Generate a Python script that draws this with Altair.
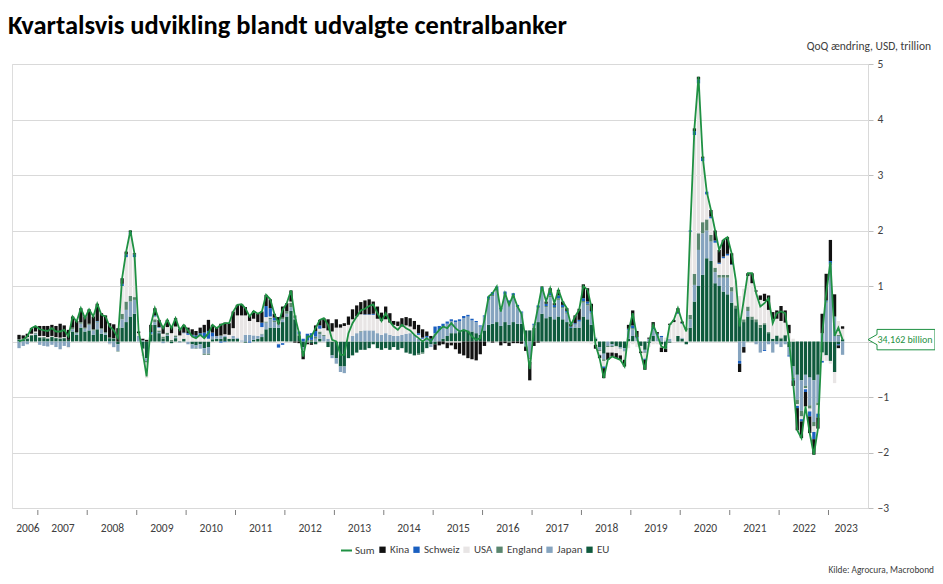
import altair as alt
import pandas as pd

# ---------------- data (USD trillion, QoQ change, monthly Aug 2006 - Apr 2023) ----------------
EU = [0.03, 0.03, 0.05, 0.10, 0.12,
      0.07, 0.06, 0.05, 0.08, 0.06, 0.05, 0.06, 0.03, 0.18, 0.12, 0.25, 0.18,
      0.20, 0.12, 0.22, 0.14, 0.12, 0.06, 0.05, -0.05, 0.25, 0.35, 0.45, 0.50,
      0.00, -0.12, -0.30, 0.12, 0.30, 0.15, 0.05, 0.10, -0.03, 0.06, 0.00, 0.05,
      0.00, -0.05, -0.07, -0.05, -0.12, -0.10, 0.04, 0.05, 0.05, 0.08, 0.05, 0.05,
      0.05, 0.00, -0.02, 0.00, 0.03, 0.05, 0.08, 0.22, 0.25, 0.25, 0.25, 0.35,
      0.45, 0.55, 0.40, 0.10, -0.10, 0.00, -0.03, -0.05, 0.05, 0.00, -0.10, -0.25,
      -0.30, -0.45, -0.45, -0.30, -0.25, -0.20, -0.15, -0.15, -0.12, -0.05, -0.12, -0.15,
      -0.12, -0.15, -0.10, -0.15, -0.12, -0.20, -0.22, -0.25, -0.22, -0.20, -0.12, -0.05,
      -0.05, 0.00, 0.05, 0.10, 0.15, 0.15, 0.17, 0.20, 0.20, 0.18, 0.15, 0.12,
      0.20, 0.30, 0.32, 0.35, 0.28, 0.35, 0.30, 0.35, 0.32, 0.32, 0.20, 0.20,
      0.25, 0.35, 0.50, 0.42, 0.45, 0.40, 0.45, 0.40, 0.35, 0.25, 0.25, 0.25,
      0.45, 0.40, 0.30, 0.05, -0.10, -0.22, 0.00, -0.05, -0.08, -0.10, -0.12, 0.05,
      0.10, 0.00, -0.08, -0.15, -0.03, 0.10, 0.00, -0.05, -0.12, -0.02, 0.00, 0.10,
      0.05, -0.05, 0.25, 0.72, 1.00, 1.20, 1.50, 1.45, 1.05, 1.00, 0.90, 0.85,
      0.70, 0.60, 0.40, 0.35, 0.45, 0.40, 0.35, 0.25, 0.30, 0.15, 0.05, 0.10,
      0.05, 0.10, -0.10, -0.45, -0.60, -0.70, -0.60, -0.65, -0.70, -0.60, -0.20, -0.25,
      -0.35, -0.55, -0.05, 0.03]
JAPAN = [-0.12, -0.08, -0.05, 0.00, 0.02,
         -0.06, -0.08, -0.09, -0.06, -0.10, -0.14, -0.08, -0.10, 0.04, 0.03, 0.07, 0.05,
         0.10, 0.08, 0.12, 0.08, 0.03, -0.04, -0.10, -0.12, 0.15, 0.22, 0.27, 0.25,
         0.10, 0.02, -0.05, 0.00, 0.05, 0.02, -0.03, 0.02, 0.00, 0.02, -0.02, 0.00,
         -0.05, -0.08, -0.05, -0.08, -0.10, -0.12, 0.05, 0.05, 0.05, 0.03, 0.00, 0.05,
         0.02, 0.02, 0.12, 0.12, 0.08, 0.05, 0.05, 0.12, 0.15, 0.10, 0.05, 0.05,
         0.05, 0.07, 0.02, 0.00, -0.05, -0.02, 0.00, 0.05, 0.08, 0.10, 0.05, -0.05,
         -0.10, -0.10, -0.12, 0.00, 0.10, 0.15, 0.18, 0.20, 0.20, 0.20, 0.15, 0.12,
         0.15, 0.12, 0.10, 0.10, 0.12, 0.14, 0.15, 0.12, 0.05, 0.00, 0.05, -0.05,
         0.15, 0.20, 0.22, 0.22, 0.22, 0.20, 0.20, 0.22, 0.25, 0.20, 0.20, 0.15,
         0.25, 0.45, 0.50, 0.55, 0.30, 0.50, 0.40, 0.45, 0.30, 0.20, -0.08, -0.30,
         0.05, 0.25, 0.40, 0.20, 0.35, 0.20, 0.30, 0.20, 0.15, 0.00, 0.05, 0.10,
         0.25, 0.25, 0.20, 0.02, -0.05, -0.10, -0.08, -0.03, 0.00, -0.02, -0.05, 0.15,
         0.12, 0.05, 0.00, -0.05, 0.05, 0.12, 0.12, 0.08, 0.02, 0.05, 0.00, 0.00,
         0.02, 0.00, 0.15, 0.30, 0.65, 0.75, 0.50, 0.35, 0.20, 0.15, 0.25, 0.30,
         0.20, 0.00, -0.35, -0.10, 0.10, 0.00, -0.05, -0.20, -0.15, -0.05, -0.20, -0.05,
         -0.10, -0.05, -0.15, -0.20, -0.45, -0.55, -0.20, -0.50, -0.75, -0.50, 0.15, 0.70,
         1.38, 0.45, 0.10, -0.24]
ENGLAND = [0.01, 0.01, 0.01, 0.02, 0.02,
           0.01, 0.02, 0.01, 0.01, 0.01, 0.01, 0.01, 0.00, 0.03, 0.02, 0.03, 0.02,
           0.02, 0.02, 0.02, 0.02, 0.02, 0.01, 0.01, -0.01, 0.10, 0.15, 0.10, 0.05,
           0.00, -0.02, -0.03, 0.02, 0.05, 0.03, 0.04, 0.04, 0.03, 0.03, 0.01, 0.00,
           0.00, 0.00, -0.01, 0.00, -0.02, -0.02, 0.00, 0.00, 0.01, 0.00, 0.00, 0.00,
           0.00, 0.00, 0.00, 0.00, 0.00, 0.00, 0.01, 0.02, 0.03, 0.03, 0.02, 0.03,
           0.05, 0.08, 0.05, 0.03, 0.00, 0.02, 0.03, 0.04, 0.05, 0.02, 0.00, 0.00,
           0.00, 0.00, 0.00, 0.00, 0.00, 0.00, 0.01, 0.00, 0.00, 0.00, 0.00, 0.00,
           0.00, 0.00, 0.00, 0.00, 0.00, 0.00, 0.00, 0.00, -0.02, -0.02, 0.00, 0.00,
           0.00, 0.00, 0.00, 0.00, 0.00, 0.00, 0.00, 0.00, 0.00, 0.00, 0.00, 0.00,
           0.00, 0.02, 0.02, 0.02, 0.00, 0.00, -0.02, 0.03, 0.02, 0.00, -0.02, -0.02,
           0.00, 0.02, 0.03, 0.02, 0.03, 0.02, 0.03, 0.02, 0.02, 0.00, 0.01, 0.01,
           0.03, 0.03, 0.02, 0.00, -0.02, -0.03, -0.02, -0.02, -0.01, -0.01, -0.01, 0.01,
           0.02, 0.01, 0.00, -0.01, 0.00, 0.00, 0.00, -0.01, -0.01, 0.00, 0.00, 0.00,
           0.00, 0.00, 0.08, 0.20, 0.30, 0.20, 0.20, 0.12, 0.08, 0.05, 0.05, 0.05,
           0.08, 0.05, 0.02, 0.05, 0.08, 0.05, 0.05, 0.05, 0.03, 0.02, 0.00, 0.01,
           0.02, 0.02, 0.00, -0.03, -0.08, -0.10, -0.04, -0.06, -0.08, -0.05, 0.00, 0.02,
           0.02, 0.00, 0.02, 0.02]
USA = [0.00, 0.01, 0.02, 0.02, 0.02,
       0.02, 0.02, 0.02, 0.01, 0.01, 0.01, 0.01, -0.02, 0.00, -0.01, 0.00, -0.03,
       0.00, 0.00, 0.00, -0.03, -0.02, -0.02, -0.01, 0.00, 0.50, 0.80, 1.12, 0.72,
       0.05, -0.12, -0.28, 0.00, 0.05, 0.05, 0.05, 0.10, 0.12, 0.16, 0.10, 0.10,
       0.12, 0.10, 0.08, 0.10, 0.08, 0.05, 0.00, -0.02, 0.00, 0.02, 0.07, 0.14,
       0.40, 0.45, 0.35, 0.25, 0.30, 0.25, 0.12, 0.08, 0.02, 0.00, -0.05, -0.03,
       0.00, 0.02, 0.00, 0.00, -0.02, 0.00, 0.00, 0.00, 0.05, 0.12, 0.15, 0.18,
       0.25, 0.25, 0.28, 0.30, 0.30, 0.30, 0.30, 0.28, 0.28, 0.28, 0.26, 0.25,
       0.25, 0.22, 0.20, 0.18, 0.15, 0.15, 0.12, 0.10, 0.07, 0.05, 0.02, 0.00,
       0.00, 0.00, 0.00, -0.02, -0.02, -0.02, -0.02, 0.00, 0.00, 0.00, 0.00, 0.00,
       0.00, 0.00, 0.00, 0.00, 0.00, 0.00, 0.00, 0.00, 0.00, 0.00, 0.00, -0.05,
       0.00, 0.00, 0.00, 0.00, 0.00, 0.00, 0.00, 0.00, 0.00, -0.02, -0.02, -0.02,
       -0.03, -0.03, -0.05, -0.06, -0.07, -0.10, -0.10, -0.10, -0.12, -0.12, -0.15, -0.12,
       -0.05, -0.10, -0.10, -0.10, -0.07, -0.05, -0.05, -0.05, 0.05, 0.25, 0.35, 0.40,
       0.25, 0.22, 1.50, 2.50, 2.70, 1.10, 0.45, 0.30, 0.45, 0.20, 0.30, 0.35,
       0.40, 0.45, 0.40, 0.55, 0.55, 0.60, 0.50, 0.45, 0.40, 0.40, 0.35, 0.30,
       0.30, 0.22, 0.15, 0.05, -0.03, -0.05, -0.02, -0.05, -0.10, -0.15, -0.15, -0.10,
       -0.05, -0.20, 0.25, 0.18]
SCHWEIZ = [0.00, 0.00, 0.00, 0.00, 0.00,
           0.00, 0.00, 0.00, 0.00, 0.00, 0.00, 0.00, 0.00, 0.00, 0.00, 0.00, 0.00,
           0.00, 0.00, 0.01, 0.00, 0.00, 0.00, 0.00, 0.00, 0.04, 0.05, 0.03, 0.05,
           0.00, 0.00, 0.00, 0.03, 0.02, 0.01, 0.00, 0.00, 0.00, 0.00, 0.00, 0.01,
           0.03, 0.02, 0.03, 0.05, 0.08, 0.14, 0.07, 0.00, -0.02, -0.01, 0.00, 0.00,
           0.00, 0.00, 0.00, -0.02, 0.00, 0.00, 0.08, 0.20, 0.15, 0.05, -0.06, -0.03,
           0.00, 0.00, 0.00, 0.05, 0.05, 0.12, 0.12, 0.10, 0.06, 0.00, 0.00, 0.00,
           0.00, 0.00, 0.00, 0.00, 0.00, 0.00, 0.00, 0.01, 0.01, 0.02, 0.00, 0.00,
           0.00, 0.00, 0.00, 0.00, 0.00, 0.00, 0.00, 0.00, 0.03, 0.02, 0.03, 0.05,
           0.12, 0.08, 0.05, 0.04, 0.03, 0.03, 0.03, 0.04, 0.03, 0.03, 0.02, 0.02,
           0.02, 0.04, 0.05, 0.07, 0.03, 0.05, 0.04, 0.04, 0.02, 0.02, 0.00, 0.00,
           0.02, 0.03, 0.05, 0.04, 0.05, 0.04, 0.05, 0.04, 0.03, 0.02, 0.02, 0.03,
           0.05, 0.04, 0.03, 0.00, -0.01, -0.03, 0.00, 0.00, 0.00, 0.00, 0.00, 0.02,
           0.05, 0.02, 0.00, -0.02, 0.00, 0.03, 0.02, 0.02, 0.00, 0.00, 0.00, 0.02,
           0.01, 0.00, 0.02, 0.07, 0.07, 0.06, 0.05, 0.03, 0.04, 0.02, 0.03, 0.03,
           0.01, 0.00, -0.05, 0.00, 0.00, 0.00, 0.00, 0.00, -0.02, 0.00, 0.00, 0.00,
           0.00, 0.00, -0.02, -0.02, -0.04, -0.04, -0.05, -0.09, -0.13, -0.07, -0.03, 0.02,
           0.05, 0.00, -0.02, 0.00]
KINA = [0.08, 0.06, 0.06, 0.10, 0.10,
        0.18, 0.18, 0.20, 0.20, 0.20, 0.25, 0.21, 0.18, 0.20, 0.20, 0.25, 0.20,
        0.26, 0.23, 0.31, 0.27, 0.30, 0.26, 0.25, 0.24, 0.10, 0.05, 0.03, 0.02,
        0.03, 0.03, 0.03, 0.13, 0.13, 0.13, 0.13, 0.13, 0.12, 0.15, 0.12, 0.14,
        0.10, 0.10, 0.08, 0.10, 0.14, 0.20, 0.14, 0.16, 0.21, 0.21, 0.21, 0.30,
        0.19, 0.20, 0.15, 0.10, 0.14, 0.15, 0.20, 0.20, 0.16, 0.07, 0.12, 0.20,
        0.14, 0.20, -0.02, -0.03, -0.15, -0.03, -0.03, 0.10, 0.10, 0.18, 0.20, 0.15,
        0.15, 0.06, 0.05, 0.15, 0.18, 0.20, 0.22, 0.25, 0.27, 0.22, 0.22, 0.15,
        0.23, 0.17, 0.07, 0.08, 0.15, 0.15, 0.15, 0.15, 0.15, 0.15, 0.08, 0.05,
        -0.10, -0.07, -0.05, -0.10, -0.05, -0.12, -0.20, -0.25, -0.30, -0.32, -0.34, -0.23,
        -0.08, 0.00, -0.02, 0.00, -0.07, -0.03, -0.06, -0.03, -0.03, -0.04, -0.07, -0.33,
        -0.08, -0.02, 0.01, 0.04, 0.08, 0.03, 0.10, 0.06, 0.05, 0.05, 0.14, 0.20,
        0.25, 0.24, 0.13, -0.07, -0.05, -0.18, -0.13, -0.07, -0.09, -0.08, -0.12, 0.07,
        0.27, 0.11, -0.03, -0.18, 0.02, 0.10, 0.03, -0.08, -0.06, 0.02, 0.04, 0.08,
        0.03, 0.01, 0.00, 0.05, 0.05, 0.02, 0.00, 0.12, 0.18, 0.23, 0.30, 0.30,
        0.20, 0.00, -0.15, -0.10, 0.05, 0.18, 0.02, 0.08, 0.13, 0.26, 0.13, 0.15,
        0.27, 0.22, 0.15, -0.10, -0.40, -0.30, -0.26, -0.30, -0.28, -0.20, 0.35, 0.48,
        0.38, 0.40, -0.05, 0.044]

FIRST_MONTH = "2006-08-01"
YEAR_TICKS = list(range(2007, 2024))
LEGEND_ORDER = ["Kina", "Schweiz", "USA", "England", "Japan", "EU"]
LEGEND_COLORS = ["#111111", "#1a5fc0", "#e8e5e5", "#5a866e", "#86a4bf", "#0f5a3d"]
STACK_ORDER = ["EU", "Japan", "England", "USA", "Schweiz", "Kina"]
SUM_COLOR = "#1f9143"
LAST_LABEL = "34,162 billion"
TITLE = "Kvartalsvis udvikling blandt udvalgte centralbanker"
UNIT = "QoQ ændring, USD, trillion"
SOURCE = "Kilde: Agrocura, Macrobond"

# ---------------- tables ----------------
dates = pd.date_range(FIRST_MONTH, periods=len(EU), freq="MS") + pd.Timedelta(days=14)
date_str = [d.strftime("%Y-%m-%dT00:00:00") for d in dates]
series = {"EU": EU, "Japan": JAPAN, "England": ENGLAND, "USA": USA, "Schweiz": SCHWEIZ, "Kina": KINA}
rows = []
for name, vals in series.items():
    for d, v in zip(date_str, vals):
        rows.append({"date": d, "series": name, "value": v, "ord": STACK_ORDER.index(name)})
bars_df = pd.DataFrame(rows)
sum_vals = [round(sum(t), 3) for t in zip(EU, JAPAN, ENGLAND, USA, SCHWEIZ, KINA)]
sum_df = pd.DataFrame({"date": date_str, "value": sum_vals, "lbl": "Sum"})
last_df = pd.DataFrame({"date": [date_str[-1]], "value": [sum_vals[-1]], "txt": [LAST_LABEL]})
ticks_df = pd.DataFrame({"date": [f"{y}-01-01T00:00:00" for y in YEAR_TICKS]})
text_df = pd.DataFrame({"t": [TITLE], "u": [UNIT], "s": [SOURCE]})

W, H = 856, 444
FONT = "Carlito, Lato, sans-serif"
TXT = "#404040"

label_dates = [alt.DateTime(year=2006, month=10, date=16)] + \
    [alt.DateTime(year=y, month=7, date=2) for y in range(2007, 2023)] + \
    [alt.DateTime(year=2023, month=5, date=8)]

X = alt.X("date:T",
          scale=alt.Scale(domain=[alt.DateTime(year=2006, month=7, date=31),
                                  alt.DateTime(year=2023, month=9, date=13)]),
          axis=alt.Axis(values=label_dates, labelExpr="timeFormat(datum.value, '%Y')",
                        ticks=False, domain=False, grid=False, title=None,
                        labelPadding=14, labelFontSize=11.5, labelColor=TXT, labelFont=FONT,
                        labelFlush=False, labelOverlap=False))
YAX = alt.Axis(orient="right", values=list(range(-3, 6)), title=None, grid=True,
               labelExpr="datum.value == 0 ? '' : datum.label",
               gridColor="#d9d9d9", gridWidth=1, domain=True, domainColor="#d9d9d9",
               ticks=True, tickColor="#bfbfbf", tickSize=5, labelFontSize=11.5,
               labelColor=TXT, labelFont=FONT, labelPadding=4)
YSC = alt.Scale(domain=[-3, 5], nice=False, zero=False)

bars = alt.Chart(bars_df).mark_bar(size=3.3).encode(
    x=X,
    y=alt.Y("value:Q", stack="zero", scale=YSC, axis=YAX),
    fill=alt.Fill("series:N", scale=alt.Scale(domain=LEGEND_ORDER, range=LEGEND_COLORS),
                  legend=alt.Legend(title=None, orient="none", legendX=365, legendY=480,
                                    direction="horizontal", symbolType="square", symbolSize=40,
                                    labelFontSize=11, labelFont=FONT, labelColor=TXT,
                                    columnPadding=1, labelOffset=2, symbolStrokeWidth=0)),
    order=alt.Order("ord:Q", sort="ascending"),
)

line = alt.Chart(sum_df).mark_line(strokeWidth=1.8).encode(
    x=X,
    y=alt.Y("value:Q", scale=YSC, axis=YAX),
    color=alt.Color("lbl:N", scale=alt.Scale(domain=["Sum"], range=[SUM_COLOR]),
                    legend=alt.Legend(title=None, orient="none", legendX=328, legendY=480,
                                      symbolType="stroke", symbolSize=121, symbolStrokeWidth=2,
                                      labelFontSize=11, labelFont=FONT, labelColor=TXT,
                                      labelOffset=2)),
)

ticks = alt.Chart(ticks_df).mark_rule(color="#7f7f7f", strokeWidth=1).encode(
    x=X, y=alt.value(H + 2), y2=alt.value(H + 7))

CALLOUT = "M -1 0 L -0.735 -0.15 L -0.735 -0.3 L 0.97 -0.3 L 0.97 0.3 L -0.735 0.3 L -0.735 0.15 Z"
callout = alt.Chart(last_df).mark_point(shape=CALLOUT, size=4624, filled=True, fill="white",
                                        stroke=SUM_COLOR, strokeWidth=1, opacity=1).encode(
    x=alt.value(W + 34), y=alt.Y("value:Q", scale=YSC, axis=YAX))
callout_txt = alt.Chart(last_df).mark_text(color=SUM_COLOR, fontSize=10, font=FONT,
                                           align="center", baseline="middle").encode(
    x=alt.value(W + 37), y=alt.Y("value:Q", scale=YSC, axis=YAX), text="txt:N")

title = alt.Chart(text_df).mark_text(fontSize=26.5, fontWeight="bold", font=FONT, color="black",
                                     align="left", baseline="alphabetic").encode(
    x=alt.value(-4), y=alt.value(-30), text="t:N")
unit = alt.Chart(text_df).mark_text(fontSize=11.5, font=FONT, color=TXT,
                                    align="right", baseline="middle").encode(
    x=alt.value(W + 63), y=alt.value(-17), text="u:N")
source = alt.Chart(text_df).mark_text(fontSize=9.3, font=FONT, color=TXT,
                                      align="right", baseline="middle").encode(
    x=alt.value(W + 66), y=alt.value(H + 62), text="s:N")

chart = alt.layer(bars, line, ticks, callout, callout_txt, title, unit, source).properties(
    width=W, height=H,
    padding={"left": 4, "top": 56, "right": 67, "bottom": 68},
    autosize=alt.AutoSizeParams(type="none"),
).configure_view(strokeWidth=0).configure(background="white")

chart.save("out.html", embed_options={"renderer": "svg", "actions": False})
